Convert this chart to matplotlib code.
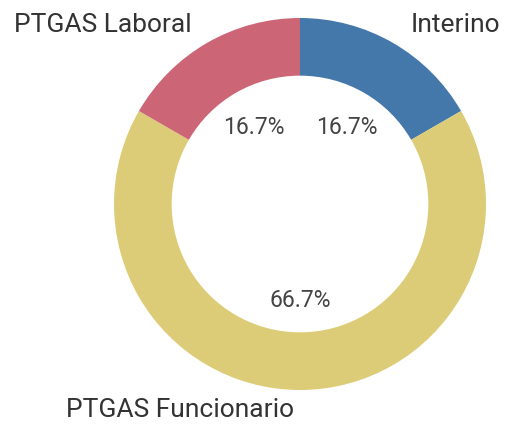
import matplotlib.pyplot as plt
from matplotlib.transforms import offset_copy

categories = ['Interino', 'PTGAS Funcionario', 'PTGAS Laboral']
values = [1, 4, 1]
colors = ['#4477AA', '#DDCC77', '#CC6677']

plt.rcParams['font.family'] = ['Roboto', 'DejaVu Sans']

fig = plt.figure(figsize=(5.06, 4.24), dpi=100)
ax = fig.add_axes([114 / 506, 34 / 424, 372 / 506, 372 / 424])

wedges, texts, autotexts = ax.pie(
    values, colors=colors, startangle=90, counterclock=False, radius=1,
    wedgeprops=dict(width=0.31, edgecolor='none'),
    autopct='%.1f%%', pctdistance=0.5,
    textprops=dict(fontsize=16.5, color='#444444'))
# nudge percentages down a few pixels
for t in autotexts:
    t.set_transform(offset_copy(ax.transData, fig=fig, y=-4, units='dots'))
ax.set_xlim(-1, 1)
ax.set_ylim(-1, 1)
ax.set_aspect('equal')
ax.axis('off')

# outer labels
lab = dict(fontsize=19, color='#333333', va='baseline')
fig.text(14 / 506, 1 - 32 / 424, categories[2], ha='left', **lab)
fig.text(500 / 506, 1 - 32 / 424, categories[0], ha='right', **lab)
fig.text(66 / 506, 1 - 417 / 424, categories[1], ha='left', **lab)

fig.savefig('out.png', dpi=100)
